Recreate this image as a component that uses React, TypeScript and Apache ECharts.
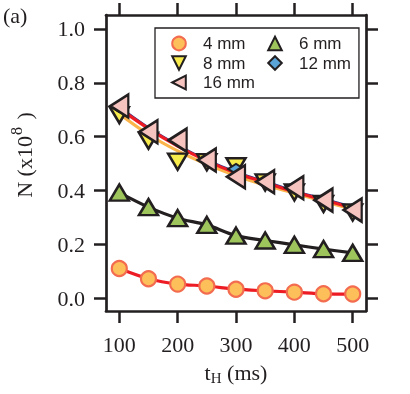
import React, { useEffect, useRef } from "react";
import * as echarts from "echarts";

const tH = [100, 150, 200, 250, 300, 350, 400, 450, 500];
const N4 = [0.11, 0.072, 0.052, 0.045, 0.033, 0.027, 0.022, 0.016, 0.015];
const N6 = [0.392, 0.338, 0.297, 0.272, 0.232, 0.214, 0.198, 0.182, 0.168];
const N8 = [0.68, 0.585, 0.507, 0.505, 0.49, 0.43, 0.393, 0.35, 0.318];
const N12 = [0.71, 0.62, 0.585, 0.515, 0.48, 0.43, 0.41, 0.365, 0.33];
const N16 = [0.714, 0.618, 0.587, 0.513, 0.451, 0.432, 0.41, 0.364, 0.327];
const fit8 = [0.685, 0.608, 0.547, 0.497, 0.455, 0.42, 0.39, 0.36, 0.33];
const fit12 = [0.712, 0.635, 0.57, 0.515, 0.47, 0.435, 0.4, 0.37, 0.34];
const fit16 = [0.705, 0.63, 0.565, 0.51, 0.465, 0.43, 0.395, 0.365, 0.335];
const xTicks = [100, 200, 300, 400, 500];
const yTicks = [0, 0.2, 0.4, 0.6, 0.8, 1.0];
const legendNames = ["4 mm", "6 mm", "8 mm", "12 mm", "16 mm"];

const INK = "#231F20";
const SERIF = "Liberation Serif";

function pairs(ys: number[]) {
  return tH.map((x, i) => [x, ys[i]]);
}

export default function App() {
  const ref = useRef<HTMLDivElement>(null);
  useEffect(() => {
    if (!ref.current) return;
    const chart = echarts.init(ref.current, null, { renderer: "svg" });
    const axisLine = { show: true, onZero: false, lineStyle: { color: INK, width: 2.7 } };
    const tick = (vals: number[]) => ({
      show: true,
      inside: false,
      length: 12,
      customValues: vals,
      lineStyle: { color: INK, width: 2.5 },
    });
    const lineSeries = (name: string, ys: number[], color: string, width: number, smooth: number) => ({
      name,
      type: "line",
      data: pairs(ys),
      symbol: "none",
      smooth,
      lineStyle: { color, width },
      z: 2,
    });
    const symSeries = (
      name: string,
      ys: number[],
      symbol: string,
      size: any,
      rotate: number,
      fill: string,
      border: string,
      bw: number
    ) => ({
      name,
      type: "line",
      data: pairs(ys),
      symbol,
      symbolSize: size,
      symbolRotate: rotate,
      showAllSymbol: true,
      lineStyle: { width: 0, opacity: 0 },
      itemStyle: { color: fill, borderColor: border, borderWidth: bw, opacity: 1 },
      z: 3,
    });
    chart.setOption({
      animation: false,
      grid: { left: 106, top: 15, width: 260, height: 296, containLabel: false },
      graphic: [
        {
          type: "text",
          left: 3,
          top: 4,
          style: { text: "(a)", font: `22px "${SERIF}"`, fill: INK },
        },
        {
          type: "text",
          x: 24,
          y: 155,
          rotation: Math.PI / 2,
          style: {
            text: "{a|N (x10}{sup|8}{a| )}",
            align: "center",
            verticalAlign: "middle",
            rich: {
              a: { fontFamily: SERIF, fontSize: 22, fill: INK },
              sup: { fontFamily: SERIF, fontSize: 16, fill: INK, padding: [0, 2, 16, 1] },
            },
          },
        },
      ],
      legend: {
        data: legendNames,
        left: 155,
        top: 28,
        width: 215,
        padding: [7, 0, 7, 5],
        itemWidth: 38,
        itemHeight: 17,
        itemGap: 2.5,
        selectedMode: false,
        borderColor: INK,
        borderWidth: 1.3,
        textStyle: {
          fontFamily: "Liberation Sans",
          fontSize: 17,
          color: INK,
          lineHeight: 17,
          padding: [0, 8, 0, 0],
        },
        itemStyle: { borderWidth: 2 },
        lineStyle: { width: 0, opacity: 0 },
      },
      xAxis: [
        {
          type: "value",
          min: 77.2,
          max: 522.8,
          position: "bottom",
          name: "{a|t}{sub|H}{a| (ms)}",
          nameLocation: "middle",
          nameGap: 49,
          nameTextStyle: {
            rich: {
              a: { fontFamily: SERIF, fontSize: 22, color: INK },
              sub: { fontFamily: SERIF, fontSize: 15, color: INK, padding: [10, 0, 0, 0] },
            },
          },
          axisLine,
          axisTick: tick(xTicks),
          splitLine: { show: false },
          axisLabel: {
            customValues: xTicks,
            margin: 22,
            fontFamily: SERIF,
            fontSize: 22,
            color: INK,
          },
        },
        {
          type: "value",
          min: 77.2,
          max: 522.8,
          position: "top",
          axisLine,
          axisTick: tick(xTicks),
          splitLine: { show: false },
          axisLabel: { show: false },
        },
      ],
      yAxis: [
        {
          type: "value",
          min: -0.048,
          max: 1.052,
          position: "left",
          axisLine,
          axisTick: tick(yTicks),
          splitLine: { show: false },
          axisLabel: {
            customValues: yTicks,
            margin: 21,
            fontFamily: SERIF,
            fontSize: 22,
            color: INK,
            formatter: (v: number) => v.toFixed(1),
          },
        },
        {
          type: "value",
          min: -0.048,
          max: 1.052,
          position: "right",
          axisLine,
          axisTick: tick(yTicks),
          splitLine: { show: false },
          axisLabel: { show: false },
        },
      ],
      series: [
        lineSeries("line4", N4, "#ED1C24", 3.2, 0.3),
        lineSeries("line6", N6, INK, 3.2, 0.3),
        lineSeries("fit8", fit8, "#FBB44A", 3.2, 0.4),
        lineSeries("fit12", fit12, "#2B3990", 1.6, 0.4),
        lineSeries("fit16", fit16, "#ED1C24", 3.2, 0.4),
        symSeries("4 mm", N4, "circle", 15, 0, "#FDBF5A", "#F36C4F", 2.2),
        symSeries("6 mm", N6, "triangle", [19, 16], 0, "#9DC55C", INK, 2.5),
        symSeries("8 mm", N8, "triangle", [19, 16], 180, "#F8EB4C", INK, 2.5),
        symSeries("12 mm", N12, "diamond", [16, 10], 0, "#5BA4D8", INK, 2),
        symSeries("16 mm", N16, "triangle", [23, 18], 90, "#F6C3BF", INK, 2.5),
      ],
    });
    return () => chart.dispose();
  }, []);
  return (
    <div
      ref={ref}
      style={{ position: "fixed", left: 0, top: 0, width: 410, height: 394 }}
    />
  );
}
